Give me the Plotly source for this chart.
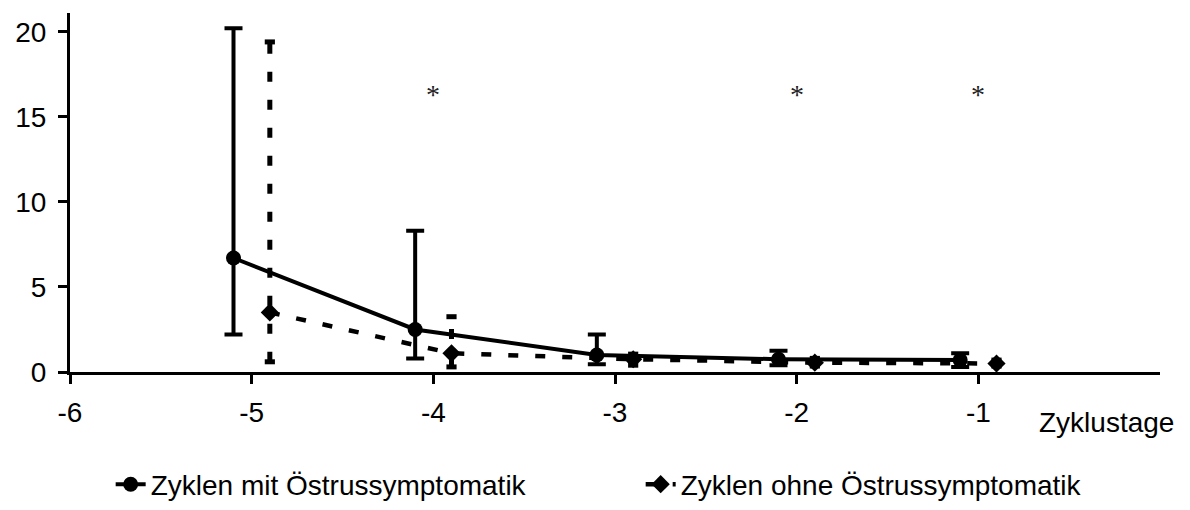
import plotly.graph_objects as go

# Data
days = [-5, -4, -3, -2, -1]
offset = 0.1
mit_mean = [6.7, 2.5, 1.0, 0.75, 0.7]
mit_upper = [20.2, 8.3, 2.2, 1.25, 1.1]
mit_lower = [2.2, 0.8, 0.45, 0.4, 0.3]
ohne_mean = [3.5, 1.1, 0.75, 0.55, 0.5]
ohne_upper = [19.4, 3.25, 1.05, 0.8, 0.7]
ohne_lower = [0.6, 0.3, 0.4, 0.35, 0.35]
sig_days = [-4, -2, -1]
sig_y = 16.3
x_ticks = [-6, -5, -4, -3, -2, -1]
x_ticktext = ["-6", "-5", "-4", "-3", "-2", "-1"]
y_ticks = [0, 5, 10, 15, 20]

FONT = "Arial, Liberation Sans, sans-serif"
FS = 28

x_mit = [d - offset for d in days]
x_ohne = [d + offset for d in days]

fig = go.Figure()

fig.add_trace(go.Scatter(
    x=x_mit, y=mit_mean, mode="lines+markers",
    name="Zyklen mit Östrussymptomatik",
    line=dict(color="black", width=4),
    marker=dict(symbol="circle", size=15, color="black"),
    error_y=dict(type="data", symmetric=False,
                 array=[u - m for u, m in zip(mit_upper, mit_mean)],
                 arrayminus=[m - l for m, l in zip(mit_mean, mit_lower)],
                 color="black", thickness=4, width=9),
))

ex, ey = [], []
cap = 0.028
for x, lo, hi in zip(x_ohne, ohne_lower, ohne_upper):
    ex += [x, x, None]
    ey += [lo, hi, None]
cx, cy = [], []
for x, lo, hi in zip(x_ohne, ohne_lower, ohne_upper):
    cx += [x - cap, x + cap, None, x - cap, x + cap, None]
    cy += [hi, hi, None, lo, lo, None]

fig.add_trace(go.Scatter(
    x=ex, y=ey, mode="lines", showlegend=False, hoverinfo="skip",
    line=dict(color="black", width=5, dash="10px,18px"),
))
fig.add_trace(go.Scatter(
    x=cx, y=cy, mode="lines", showlegend=False, hoverinfo="skip",
    line=dict(color="black", width=5),
))

fig.add_trace(go.Scatter(
    x=x_ohne, y=ohne_mean, mode="lines+markers",
    name="Zyklen ohne Östrussymptomatik",
    line=dict(color="black", width=4.5, dash="10px,17px"),
    marker=dict(symbol="diamond", size=14, color="black"),
))

for d in sig_days:
    fig.add_annotation(x=d, y=sig_y, xref="x", yref="y", text="*",
                       showarrow=False,
                       font=dict(family="Times New Roman, Liberation Serif, serif",
                                 size=28, color="#222"))

fig.add_annotation(x=0.951, y=-0.14, xref="paper", yref="paper",
                   text="Zyklustage", showarrow=False,
                   xanchor="center", yanchor="middle",
                   font=dict(family=FONT, size=FS, color="black"))

fig.update_layout(
    width=1190, height=510,
    margin=dict(l=70, r=30, t=13, b=138, autoexpand=False),
    paper_bgcolor="white", plot_bgcolor="white",
    font=dict(family=FONT, size=FS, color="black"),
    showlegend=True,
    legend=dict(orientation="h", xref="container", yref="container",
                x=0.093, y=0.05, xanchor="left", yanchor="middle",
                font=dict(family=FONT, size=FS),
                entrywidth=485, entrywidthmode="pixels", tracegroupgap=0),
    xaxis=dict(range=[-6, 0], tickvals=x_ticks, ticktext=x_ticktext,
               showgrid=False, zeroline=False, automargin=False,
               showline=True, linecolor="black", linewidth=3,
               ticks="outside", ticklen=9, tickwidth=3, tickcolor="black",
               tickfont=dict(size=FS), ticklabelstandoff=4),
    yaxis=dict(range=[0, 21.1], tickvals=y_ticks, showgrid=False, zeroline=False,
               automargin=False,
               showline=True, linecolor="black", linewidth=3,
               ticks="outside", ticklen=9, tickwidth=3, tickcolor="black",
               tickfont=dict(size=FS), ticklabelstandoff=6),
)

fig.write_html("out.html")
